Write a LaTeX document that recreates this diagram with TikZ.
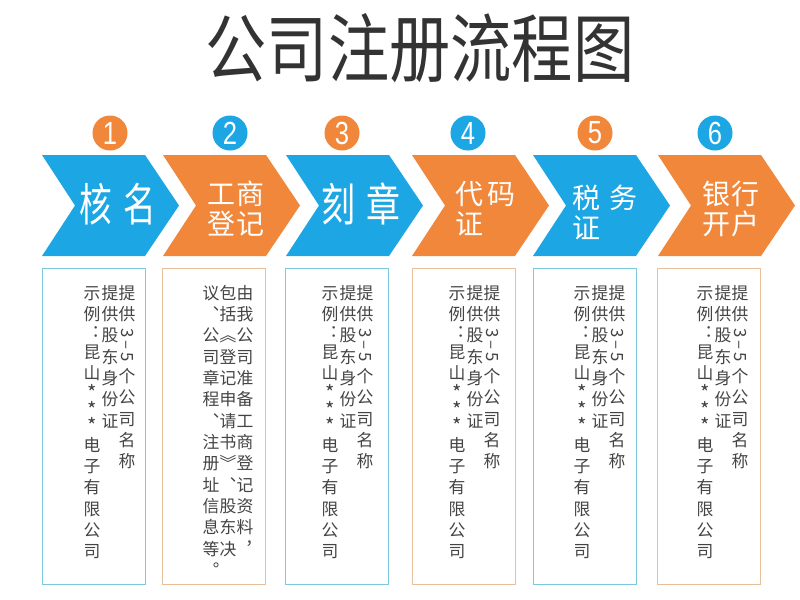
\documentclass[tikz,border=0pt]{standalone}
\usepackage{fontspec}
\usepackage{graphicx}
\setmainfont{Noto Sans CJK SC}
\newfontfamily\numfont{Liberation Sans}
\definecolor{cblue}{HTML}{1CA6E3}
\definecolor{corange}{HTML}{F0873A}
\definecolor{bblue}{HTML}{7CC8DF}
\definecolor{borange}{HTML}{E5C09A}
\definecolor{titlec}{HTML}{333333}
\definecolor{txtc}{HTML}{444444}
\newlength\cellw \setlength\cellw{12.3pt}
\newlength\cellh \setlength\cellh{16pt}
\newcommand\vcell[1]{\hbox to \cellw{\hss\vbox to \cellh{\vss\hbox{\vrule height .88em depth .12em width 0pt #1}\vss}\hss}}
\newcommand\vsmall[1]{\hbox to \cellw{\hss\vbox to 12.5pt{\vss\hbox{#1}\vss}\hss}}
\newcommand\vrotcell[1]{\hbox to \cellw{\hss\vbox to 1.9\cellh{\vss\hbox{\rotatebox{-90}{#1}}\vss}\hss}}
\newcommand\vstar{\vsmall{\scalebox{1.2}{*}}}
\ExplSyntaxOn
\NewDocumentCommand\vchars{m}{\tl_map_inline:nn{#1}{\vcell{##1}}}
\ExplSyntaxOff
\newcommand\vcolumn[1]{\vtop{\offinterlineskip #1}}
\newcommand\chev[2]{\fill[#2] (#1,155) -- ++(103,0) -- ++(34,50.5) -- ++(-34,50.5) -- ++(-103,0) -- ++(33,-50.5) -- cycle;}
\begin{document}
\begin{tikzpicture}[x=0.75pt,y=-0.75pt,
  numc/.style={circle,inner sep=0pt,minimum size=26.25pt,text=white,font=\numfont\fontsize{24}{24}\selectfont},
  big/.style={text=white,inner sep=0pt,font=\fontsize{34}{36}\selectfont},
  two/.style={text=white,inner sep=0pt,align=left,anchor=west,font=\fontsize{21}{22.5}\selectfont},
  infobox/.style={draw,fill=white,line width=0.8pt,minimum width=77.25pt,minimum height=237pt,anchor=north west,inner sep=0pt},
  col/.style={anchor=north,inner sep=0pt,text=txtc,font=\fontsize{12.6}{16}\selectfont}]
\fill[white] (0,0) rectangle (800,600);
\useasboundingbox (0,0) rectangle (800,600);
% title
\node[text=titlec,inner sep=0pt,font=\fontsize{56}{60}\selectfont] (title) at (420,48) {\scalebox{0.82}[1]{公司注册流程图}};
% chevrons
\chev{42}{cblue}
\chev{163}{corange}
\chev{286}{cblue}
\chev{412}{corange}
\chev{533}{cblue}
\chev{658}{corange}
% numbers
\node[numc,fill=corange] (n1) at (110,133) {\scalebox{0.8}[1]{1}};
\node[numc,fill=cblue]   (n2) at (230,133) {\scalebox{0.8}[1]{2}};
\node[numc,fill=corange] (n3) at (342,133) {\scalebox{0.8}[1]{3}};
\node[numc,fill=cblue]   (n4) at (468,133) {\scalebox{0.8}[1]{4}};
\node[numc,fill=corange] (n5) at (595,133) {\scalebox{0.8}[1]{5}};
\node[numc,fill=cblue]   (n6) at (715,133) {\scalebox{0.8}[1]{6}};
% chevron labels
\node[big] (t1) at (117.5,204) {\scalebox{0.72}[1]{核\hspace{12pt}名}};
\node[two] (t2) at (207,209) {工\hspace{1pt}商\\登\hspace{1pt}记};
\node[big] (t3) at (361,204) {\scalebox{0.75}[1]{刻\hspace{12pt}章}};
\node[two] (t4) at (455,209) {代\hspace{3pt}码\\证};
\node[two] (t5) at (572,212) {税\hspace{7pt}务\\证};
\node[two] (t6) at (702,209) {银\hspace{1pt}行\\开\hspace{1pt}户};
% boxes
\node[infobox,draw=bblue]   (b1) at (42,268) {};
\node[infobox,draw=borange] (b2) at (162,268) {};
\node[infobox,draw=bblue]   (b3) at (285,268) {};
\node[infobox,draw=borange] (b4) at (412,268) {};
\node[infobox,draw=bblue]   (b5) at (533,268) {};
\node[infobox,draw=borange] (b6) at (657,268) {};
% box texts
\foreach \xa/\xb/\xc/\n in {127/110/92/1,365/348/330/3,492/475/457/4,617/600/582/5,740/723/705/6}{
  \node[col] (c\n a) at (\xa,282) {\vcolumn{\vchars{提供}\vrotcell{3\,–\,5}\vchars{个公司名称}}};
  \node[col] (c\n b) at (\xb,282) {\vcolumn{\vchars{提供股东身份证}}};
  \node[col] (c\n c) at (\xc,282) {\vcolumn{\vchars{示例}\vsmall{︓}\vchars{昆山}\vstar\vstar\vstar\vchars{电子有限公司}}};
}
\node[col] (c2a) at (245,282) {\vcolumn{\vchars{由我公司准备工商登记资料︐}}};
\node[col] (c2b) at (228,282) {\vcolumn{\vchars{包括︽登记申请书︾︑股东决}}};
\node[col] (c2c) at (211,282) {\vcolumn{\vchars{议︑公司章程︑注册址信息等︒}}};
\end{tikzpicture}
\end{document}
